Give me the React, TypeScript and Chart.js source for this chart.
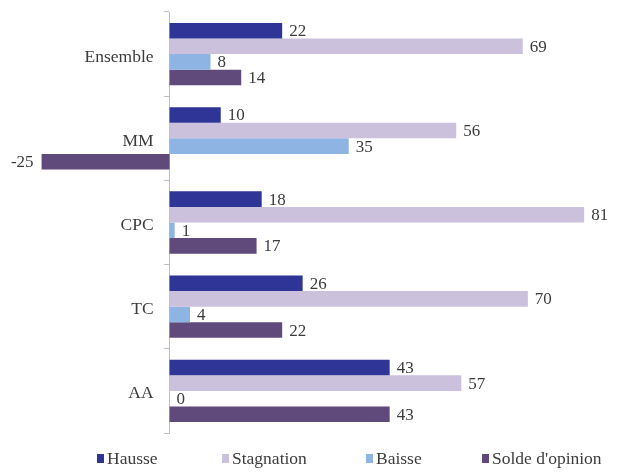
import React, { useEffect, useRef } from 'react';
import { Chart, registerables } from 'chart.js';

Chart.register(...registerables);

const categories = ['Ensemble', 'MM', 'CPC', 'TC', 'AA'];
const seriesNames = ['Hausse', 'Stagnation', 'Baisse', "Solde d'opinion"];
const hausse = [22, 10, 18, 26, 43];
const stagnation = [69, 56, 81, 70, 57];
const baisse = [8, 35, 1, 4, 0];
const solde = [14, -25, 17, 22, 43];
const seriesColors = ['#2F3497', '#CCC1DC', '#8DB4E2', '#604A7B'];

const TEXT = '#3c3c3c';
const FONT = '"Liberation Serif", "Times New Roman", serif';

const valueLabels = {
  id: 'valueLabels',
  afterDatasetsDraw(chart: any) {
    const ctx = chart.ctx;
    ctx.save();
    ctx.font = `17px ${FONT}`;
    ctx.fillStyle = TEXT;
    ctx.textBaseline = 'middle';
    chart.data.datasets.forEach((ds: any, di: number) => {
      const meta = chart.getDatasetMeta(di);
      meta.data.forEach((bar: any, i: number) => {
        const v = ds.data[i] as number;
        const { x, y } = bar.getProps(['x', 'y'], true);
        if (v < 0) {
          ctx.textAlign = 'right';
          ctx.fillText(String(v), x - 8, y + 1);
        } else {
          ctx.textAlign = 'left';
          ctx.fillText(String(v), x + 7, y + 1);
        }
      });
    });
    ctx.restore();
  },
};

// Category labels drawn next to the zero line (Excel "next to axis" style)
const axisLabels = {
  id: 'axisLabels',
  afterDraw(chart: any) {
    const ctx = chart.ctx;
    const xs = chart.scales.x;
    const ys = chart.scales.y;
    const x0 = xs.getPixelForValue(0);
    ctx.save();
    ctx.font = `17.5px ${FONT}`;
    ctx.fillStyle = TEXT;
    ctx.textAlign = 'right';
    ctx.textBaseline = 'middle';
    (chart.data.labels as string[]).forEach((lab, i) => {
      ctx.fillText(lab, x0 - 16, ys.getPixelForValue(i) + 3);
    });
    ctx.restore();
  },
};

const legendStarts = [97, 222, 366, 482];

const bottomLegend = {
  id: 'bottomLegend',
  afterDraw(chart: any) {
    const ctx = chart.ctx;
    ctx.save();
    ctx.font = `17.5px ${FONT}`;
    ctx.textBaseline = 'middle';
    ctx.textAlign = 'left';
    const y = 459;
    chart.data.datasets.forEach((ds: any, i: number) => {
      const x = legendStarts[i];
      ctx.fillStyle = ds.backgroundColor;
      ctx.fillRect(x, y - 5, 7, 9);
      ctx.fillStyle = TEXT;
      ctx.fillText(ds.label, x + 10, y);
    });
    ctx.restore();
  },
};

export default function App() {
  const ref = useRef<HTMLCanvasElement | null>(null);

  useEffect(() => {
    if (!ref.current) return;
    const seriesValues = [hausse, stagnation, baisse, solde];
    const chart = new Chart(ref.current, {
      type: 'bar',
      data: {
        labels: categories,
        datasets: seriesValues.map((vals, i) => ({
          label: seriesNames[i],
          data: vals,
          backgroundColor: seriesColors[i],
          borderWidth: 0,
          categoryPercentage: 0.74,
          barPercentage: 1,
        })),
      },
      plugins: [valueLabels, axisLabels, bottomLegend],
      options: {
        indexAxis: 'y',
        animation: false,
        responsive: false,
        layout: { padding: { left: 16, right: 2, top: 12, bottom: 41 } },
        plugins: {
          legend: { display: false },
          tooltip: { enabled: false },
          title: { display: false },
        },
        scales: {
          x: {
            display: false,
            min: -30,
            max: 88,
          },
          y: {
            position: { x: 0 } as any,
            afterFit: (s: any) => {
              s.width = 0;
            },
            grid: {
              drawOnChartArea: false,
              tickLength: 5,
              color: '#bfbfbf',
              offset: true,
            },
            border: { display: true, color: '#bfbfbf' },
            ticks: { display: false },
          },
        },
      },
    });
    return () => chart.destroy();
  }, []);

  return (
    <div style={{ position: 'absolute', left: 0, top: 0, width: 622, height: 474, background: '#fff' }}>
      <canvas ref={ref} width={622} height={474} />
    </div>
  );
}
